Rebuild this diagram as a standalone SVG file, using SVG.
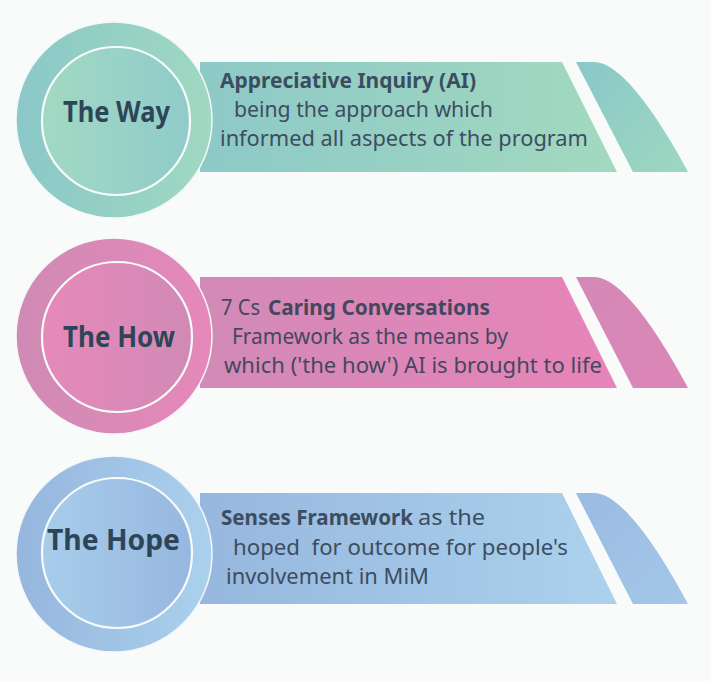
<svg xmlns="http://www.w3.org/2000/svg" width="711" height="681" viewBox="0 0 711 681">
  <defs>
    <!-- teal set -->
    <linearGradient id="tealRing" x1="0" y1="0" x2="1" y2="0">
      <stop offset="0" stop-color="#8bc8c8"/>
      <stop offset="1" stop-color="#a0d8c1"/>
    </linearGradient>
    <linearGradient id="tealCore" x1="0" y1="0" x2="1" y2="0">
      <stop offset="0" stop-color="#a2d9c3"/>
      <stop offset="1" stop-color="#90cbca"/>
    </linearGradient>
    <linearGradient id="tealBand" x1="0" y1="0" x2="1" y2="0">
      <stop offset="0" stop-color="#8dc9c7"/>
      <stop offset="1" stop-color="#a2d9bf"/>
    </linearGradient>
    <linearGradient id="tealTip" x1="0" y1="0" x2="1" y2="1">
      <stop offset="0" stop-color="#8ac8c9"/>
      <stop offset="1" stop-color="#9ed7c0"/>
    </linearGradient>
    <!-- pink set -->
    <linearGradient id="pinkRing" x1="0" y1="0" x2="1" y2="0">
      <stop offset="0" stop-color="#cf8bb4"/>
      <stop offset="1" stop-color="#e688ba"/>
    </linearGradient>
    <linearGradient id="pinkCore" x1="0" y1="0" x2="1" y2="0">
      <stop offset="0" stop-color="#e689bb"/>
      <stop offset="1" stop-color="#d18ab5"/>
    </linearGradient>
    <linearGradient id="pinkBand" x1="0" y1="0" x2="1" y2="0">
      <stop offset="0" stop-color="#d28ab6"/>
      <stop offset="1" stop-color="#e784b8"/>
    </linearGradient>
    <linearGradient id="pinkTip" x1="0" y1="0" x2="1" y2="1">
      <stop offset="0" stop-color="#d389b6"/>
      <stop offset="1" stop-color="#dc86b6"/>
    </linearGradient>
    <!-- blue set -->
    <linearGradient id="blueRing" x1="0" y1="0" x2="1" y2="0">
      <stop offset="0" stop-color="#96b6de"/>
      <stop offset="1" stop-color="#aad1ed"/>
    </linearGradient>
    <linearGradient id="blueCore" x1="0" y1="0" x2="1" y2="0">
      <stop offset="0" stop-color="#a7cdeb"/>
      <stop offset="1" stop-color="#97b7df"/>
    </linearGradient>
    <linearGradient id="blueBand" x1="0" y1="0" x2="1" y2="0">
      <stop offset="0" stop-color="#97b7de"/>
      <stop offset="1" stop-color="#abd2ed"/>
    </linearGradient>
    <linearGradient id="blueTip" x1="0" y1="0" x2="1" y2="1">
      <stop offset="0" stop-color="#9abbe2"/>
      <stop offset="1" stop-color="#a3c7e8"/>
    </linearGradient>
  </defs>
  <style>
    .ring { stroke: #f4f8f8; stroke-width: 1.5; }
    .core { stroke: #f7fbfa; stroke-width: 2.2; }
    .title { font-family: "Noto Sans", "Liberation Sans", sans-serif; font-weight: 700; font-size: 28px; fill: #2d4558; text-anchor: middle; }
    .body { font-family: "Noto Sans", "Liberation Sans", sans-serif; font-size: 21px; fill: #3c4d61; }
    .pinkText { fill: #45475f; }
    .b { font-weight: 700; }
  </style>

  <rect x="0" y="0" width="711" height="681" fill="#f9fafa"/>

  <!-- The Way -->
  <g id="node-way">
    <path d="M200,62 L562,62 L617,172 L200,172 Z" fill="url(#tealBand)"/>
    <path d="M576,62 L594,62 C622,62 660,120 688,172 L633,172 Z" fill="url(#tealTip)"/>
    <circle class="ring" cx="114" cy="120" r="98" fill="url(#tealRing)"/>
    <circle class="core" cx="116" cy="121" r="74" fill="url(#tealCore)"/>
    <text class="title" x="116.5" y="122" textLength="107" lengthAdjust="spacingAndGlyphs">The Way</text>
    <text class="body b" x="220" y="88" textLength="256" lengthAdjust="spacingAndGlyphs">Appreciative Inquiry (AI)</text>
    <text class="body" x="234" y="117" textLength="259" lengthAdjust="spacingAndGlyphs">being the approach which</text>
    <text class="body" x="220" y="146" textLength="368" lengthAdjust="spacingAndGlyphs">informed all aspects of the program</text>
  </g>

  <!-- The How -->
  <g id="node-how">
    <path d="M200,277 L562,277 L617,388 L200,388 Z" fill="url(#pinkBand)"/>
    <path d="M576,277 L594,277 C622,277 660,336 688,388 L633,388 Z" fill="url(#pinkTip)"/>
    <circle class="ring" cx="114" cy="336" r="98" fill="url(#pinkRing)"/>
    <circle class="core" cx="117" cy="337" r="75" fill="url(#pinkCore)"/>
    <text class="title" x="119" y="347" textLength="112" lengthAdjust="spacingAndGlyphs">The How</text>
    <text class="body pinkText" x="221" y="315" textLength="39" lengthAdjust="spacingAndGlyphs">7 Cs</text>
    <text class="body pinkText b" x="268" y="315" textLength="222" lengthAdjust="spacingAndGlyphs">Caring Conversations</text>
    <text class="body pinkText" x="232" y="344" textLength="276" lengthAdjust="spacingAndGlyphs">Framework as the means by</text>
    <text class="body pinkText" x="224" y="373" textLength="378" lengthAdjust="spacingAndGlyphs">which ('the how') AI is brought to life</text>
  </g>

  <!-- The Hope -->
  <g id="node-hope">
    <path d="M200,493 L562,493 L617,604 L200,604 Z" fill="url(#blueBand)"/>
    <path d="M576,493 L594,493 C622,493 660,552 688,604 L633,604 Z" fill="url(#blueTip)"/>
    <circle class="ring" cx="114" cy="554" r="98" fill="url(#blueRing)"/>
    <circle class="core" cx="117" cy="553" r="75" fill="url(#blueCore)"/>
    <text class="title" x="113.5" y="550" textLength="133" lengthAdjust="spacingAndGlyphs">The Hope</text>
    <text class="body b" x="221" y="525" textLength="192" lengthAdjust="spacingAndGlyphs">Senses Framework</text>
    <text class="body" x="418" y="525" textLength="67" lengthAdjust="spacingAndGlyphs">as the</text>
    <text class="body" x="233" y="555" textLength="335" lengthAdjust="spacingAndGlyphs" xml:space="preserve">hoped  for outcome for people's</text>
    <text class="body" x="226" y="584" textLength="203" lengthAdjust="spacingAndGlyphs">involvement in MiM</text>
  </g>
</svg>
